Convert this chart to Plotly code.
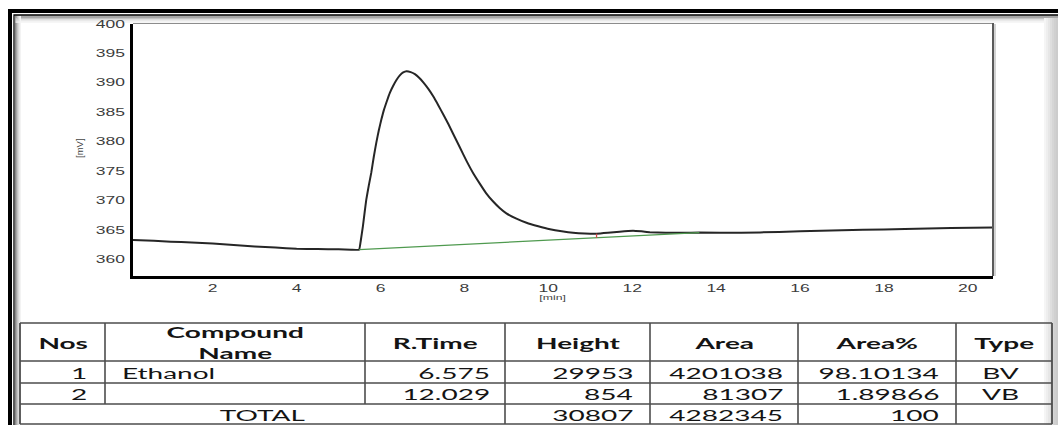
import plotly.graph_objects as go

# ---------------- chromatogram data ----------------
time_min = [0.1, 0.6, 1.0, 1.5, 2.0, 2.5, 3.0, 3.5, 4.0, 4.5, 5.0, 5.3, 5.49,
            5.53, 5.58, 5.62, 5.66, 5.72, 5.78, 5.84, 5.90, 5.96, 6.02, 6.08, 6.14,
            6.22, 6.30, 6.38, 6.46, 6.54, 6.62, 6.72, 6.82, 6.92, 7.02, 7.14, 7.26,
            7.38, 7.50, 7.62, 7.73, 7.89, 8.05, 8.21, 8.37, 8.52, 8.68, 8.84, 9.0,
            9.24, 9.48, 9.76, 10.04, 10.32, 10.59, 10.87, 11.15, 11.42, 11.70, 12.02,
            12.22, 12.42, 12.8, 13.2, 13.6, 14.6, 15.5, 16.5, 17.5, 18.5, 19.6, 20.6]
signal_mv = [363.4, 363.25, 363.1, 362.95, 362.8, 362.55, 362.3, 362.1, 361.9, 361.85,
             361.8, 361.75, 361.75,
             363.3, 365.7, 368.0, 370.2, 372.6, 374.8, 377.5, 379.9, 382.0, 383.8, 385.4,
             386.7, 388.3, 389.5, 390.5, 391.3, 391.8, 392.0, 391.85, 391.5, 390.9, 390.1,
             389.0, 387.7, 386.2, 384.6, 383.0, 381.4, 379.1, 376.8, 374.7, 372.9, 371.3,
             369.95, 368.8, 367.9, 367.0, 366.3, 365.7, 365.2, 364.85, 364.6, 364.48,
             364.45, 364.6, 364.8, 364.95, 364.85, 364.7, 364.6, 364.6, 364.65, 364.6,
             364.75, 364.95, 365.1, 365.25, 365.4, 365.5]
baseline_time = [5.49, 13.6]
baseline_mv = [361.75, 364.65]
split_time = [11.15, 11.15]
split_mv = [363.75, 364.45]

x_ticks = [2, 4, 6, 8, 10, 12, 14, 16, 18, 20]
y_ticks = [360, 365, 370, 375, 380, 385, 390, 395, 400]
x_title = "[min]"
y_title = "[mV]"

# ---------------- peak table ----------------
table_headers = ["Nos", "Compound<br>Name", "R.Time", "Height", "Area", "Area%", "Type"]
peak_nos = ["1", "2"]
compound_names = ["Ethanol", ""]
retention_times = ["6.575", "12.029"]
peak_heights = [29953, 854]
peak_areas = [4201038, 81307]
area_percent = ["98.10134", "1.89866"]
peak_types = ["BV", "VB"]
total_label = "TOTAL"
total_height = 30807
total_area = 4282345
total_area_percent = "100"

# ---------------- layout geometry (pixels) ----------------
W, H = 1058, 425
L, R, T, B = 133, 993, 24, 276
PW, PH = R - L, B - T


def px(x):
    return (x - L) / PW


def py(y):
    return (B - y) / PH


fig = go.Figure()
fig.add_trace(go.Scatter(x=time_min, y=signal_mv, mode="lines",
                         line=dict(color="#262626", width=2, shape="spline", smoothing=0.3),
                         hoverinfo="skip", showlegend=False))
fig.add_trace(go.Scatter(x=baseline_time, y=baseline_mv, mode="lines",
                         line=dict(color="#4f9a4f", width=1.2),
                         hoverinfo="skip", showlegend=False))
fig.add_trace(go.Scatter(x=split_time, y=split_mv, mode="lines",
                         line=dict(color="#d04848", width=1.3),
                         hoverinfo="skip", showlegend=False))

tick_font = dict(family="Liberation Sans, Arial", size=10, color="#3c3c3c")
fig.update_layout(
    width=W, height=H,
    margin=dict(l=L, r=W - R, t=T, b=H - B, pad=0),
    paper_bgcolor="white", plot_bgcolor="white",
    hovermode=False, showlegend=False,
    xaxis=dict(range=[0.1, 20.6], tickvals=x_ticks, showgrid=False, zeroline=False,
               showline=True, linecolor="black", linewidth=2.5, ticks="",
               tickfont=tick_font, ticklabelstandoff=2, automargin=False, fixedrange=True),
    yaxis=dict(range=[357.28, 400], tickvals=y_ticks, showgrid=False, zeroline=False,
               showline=True, linecolor="black", linewidth=3, ticks="",
               tickfont=tick_font, ticklabelstandoff=3, automargin=False, fixedrange=True),
)

shapes = []


def line(x0, y0, x1, y1, color, width, layer="above"):
    shapes.append(dict(type="line", xref="paper", yref="paper", layer=layer,
                       x0=px(x0), y0=py(y0), x1=px(x1), y1=py(y1),
                       line=dict(color=color, width=width)))


# outer frame
shapes.append(dict(type="rect", xref="paper", yref="paper", x0=px(10), y0=py(11),
                   x1=px(1090), y1=py(460), line=dict(color="black", width=4)))
shapes.append(dict(type="rect", xref="paper", yref="paper", x0=px(14), y0=py(15),
                   x1=px(1090), y1=py(460), line=dict(color="black", width=1.3)))
grads = ["#8a8a8a", "#a8a8a8", "#c4c4c4", "#d8d8d8", "#e8e8e8", "#f3f3f3"]
for i, c in enumerate(grads):
    line(15.5 + i, 15.5, 15.5 + i, 425, c, 1, "below")
    line(15.5, 16.2 + i * 1.2, 1058, 16.2 + i * 1.2, c, 1.2, "below")
rgrads = ["#f5f5f5", "#eeeeee", "#e6e6e6", "#dedede", "#d6d6d6", "#d0d0d0", "#cccccc"]
for i, c in enumerate(rgrads):
    line(1045 + i * 2, 18, 1045 + i * 2, 425, c, 2, "below")

# plot box top/right
line(L, T - 0.5, R, T - 0.5, "#8c8c8c", 1)
line(R, T - 1, R, B, "#5a5a5a", 2)
line(R + 2, T, R + 2, B, "#c4c4c4", 1.5)

# table grid
col_x = [20, 105, 365, 505, 650, 798, 956, 1052]
row_y = [323, 361, 383, 404, 424]
for yv in row_y:
    line(col_x[0], yv, col_x[-1], yv, "#4d4d4d", 1.6)
for i, xv in enumerate(col_x):
    yend = row_y[3] if i in (1, 2) else row_y[-1]
    line(xv, row_y[0], xv, yend, "#4d4d4d", 1.8 if i in (0, 7) else 1.6)
fig.update_layout(shapes=shapes)

ann = []


def cell(text, x, y, anchor, bold=False, size=16, color="#141414"):
    t = "<b>%s</b>" % text if bold else text
    ann.append(dict(text=t, x=px(x), y=py(y), xref="paper", yref="paper",
                    xanchor=anchor, yanchor="middle", align=anchor,
                    showarrow=False, borderpad=0, borderwidth=0,
                    font=dict(family="Lato", size=size, color=color)))


header_cx = [62.5, 235, 435, 577.5, 724, 877, 1004]
hy = 342
for h, cx in zip(table_headers, header_cx):
    cell(h, cx, hy, "center", bold=True)

row_cy = [372, 393.5]
for i in range(len(peak_nos)):
    y = row_cy[i]
    cell(peak_nos[i], 87, y, "right")
    if compound_names[i]:
        cell(compound_names[i], 122, y, "left")
    cell(retention_times[i], 490, y, "right")
    cell(str(peak_heights[i]), 633, y, "right")
    cell(str(peak_areas[i]), 782.5, y, "right")
    cell(area_percent[i], 939, y, "right")
    cell(peak_types[i], 1000, y, "center")

ty = 414.5
cell(total_label, 262.5, ty, "center")
cell(str(total_height), 633, ty, "right")
cell(str(total_area), 782.5, ty, "right")
cell(total_area_percent, 939, ty, "right")

# axis titles
ann.append(dict(text=x_title, x=px(552), y=py(297.5), xref="paper", yref="paper",
                xanchor="center", yanchor="middle", showarrow=False, borderpad=0, borderwidth=0,
                font=dict(family="Liberation Sans, Arial", size=7, color="#444444")))
ann.append(dict(text=y_title, x=px(79), y=py(148), xref="paper", yref="paper",
                xanchor="center", yanchor="middle", showarrow=False, textangle=-90,
                borderpad=0, borderwidth=0,
                font=dict(family="Liberation Sans, Arial", size=9.5, color="#444444")))
fig.update_layout(annotations=ann)

post = r"""
(function(){
  var gd = document.getElementById('{plot_id}');
  var S = 1.75;
  function stretch(t, s){
    var cur = t.getAttribute('transform') || '';
    if (t.getAttribute('data-tr') === cur && cur !== '') return;
    var x = parseFloat(t.getAttribute('x')) || 0;
    var nt = cur + ' translate(' + x + ',0) scale(' + s + ',1) translate(' + (-x) + ',0)';
    t.setAttribute('transform', nt);
    t.setAttribute('data-tr', nt);
  }
  function run(){
    gd.querySelectorAll('.xtick text, .ytick text').forEach(function(t){ stretch(t, S); });
    gd.querySelectorAll('text.annotation-text').forEach(function(t){
      if (t.textContent.indexOf('mV') < 0) stretch(t, S);
    });
  }
  run();
  if (gd.on) gd.on('plotly_afterplot', run);
})();
"""

fig.write_html("out.html", post_script=post, config={"displayModeBar": False, "staticPlot": True})
